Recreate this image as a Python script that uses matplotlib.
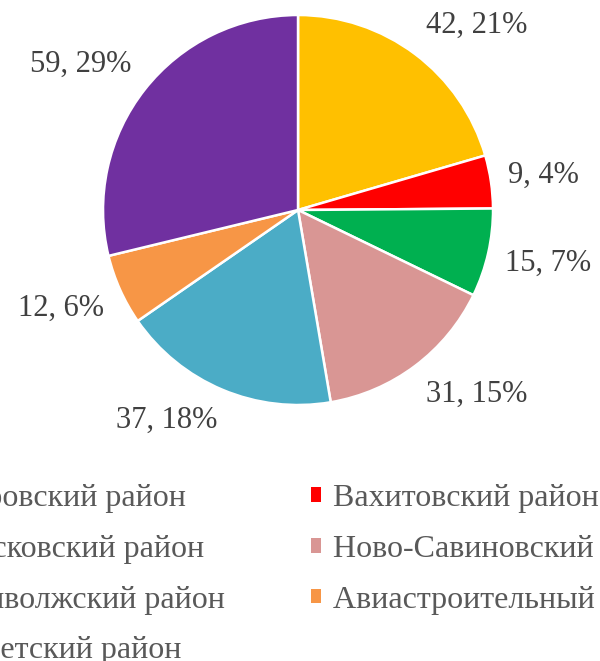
import numpy as np
import matplotlib
matplotlib.use("Agg")
import matplotlib.pyplot as plt
from matplotlib.patches import Patch

plt.rcParams['font.family'] = ['Liberation Serif', 'DejaVu Serif']

# Data
districts = ['Кировский район', 'Вахитовский район', 'Московский район',
             'Ново-Савиновский район', 'Приволжский район',
             'Авиастроительный район', 'Советский район']
counts = [42, 9, 15, 31, 37, 12, 59]
percents = [21, 4, 7, 15, 18, 6, 29]
colors = ['#FFC000', '#FF0000', '#00B050', '#D99694', '#4BACC6', '#F79646', '#7030A0']

labels = ['%d, %d%%' % (c, p) for c, p in zip(counts, percents)]

fig = plt.figure(figsize=(6.0, 6.61), dpi=100)
ax = fig.add_axes([0.1717, 0.3873, 0.65, 0.590])

wedges, _ = ax.pie(counts, colors=colors, startangle=90, counterclock=False,
                   wedgeprops=dict(edgecolor='white', linewidth=1.8))
ax.set_xlim(-1, 1)
ax.set_ylim(-1, 1)
ax.set_aspect('equal')

# data labels outside end, box pushed away from the circle (Excel style)
renderer = fig.canvas.get_renderer()
px_per_unit = ax.transData.transform((1, 0))[0] - ax.transData.transform((0, 0))[0]
for w, lab in zip(wedges, labels):
    ang = np.deg2rad((w.theta1 + w.theta2) / 2.0)
    c, s = np.cos(ang), np.sin(ang)
    r = 1.09
    t = ax.text(r * c, r * s, lab, ha='center', va='center',
                fontsize=22, color='#404040')
    bb = t.get_window_extent(renderer)
    dx = bb.width / 2.0 * np.clip(2.5 * c, -1, 1) / px_per_unit
    dy = bb.height / 2.0 * np.clip(2.0 * s, -1, 1) / px_per_unit
    t.set_position((r * c + dx, r * s + dy))

# legend: row-major order like the original, 2 columns
order = [0, 2, 4, 6, 1, 3, 5]
handles = [Patch(facecolor=colors[i], edgecolor='none') for i in order]
leg = fig.legend(handles, [districts[i] for i in order], ncol=2,
                 loc='upper left', bbox_to_anchor=(-0.172, 0.311),
                 frameon=False, fontsize=23, labelcolor='#595959',
                 handlelength=0.32, handleheight=0.32, handletextpad=0.37,
                 columnspacing=2.71, labelspacing=0.68)

plt.savefig('out.png', dpi=100)
